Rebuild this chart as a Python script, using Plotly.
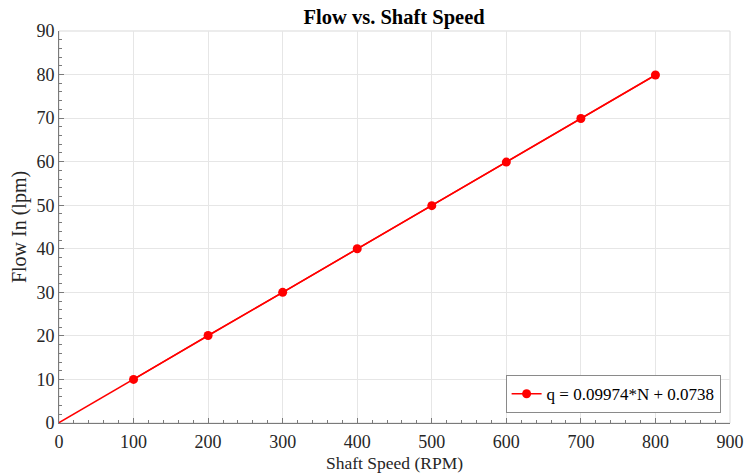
import plotly.graph_objects as go

# Measured shaft speed (RPM) and flow (lpm)
shaft_speed = [100, 200, 300, 400, 500, 600, 700, 800]
flow_in = [10.0, 20.1, 30.0, 40.0, 49.9, 59.9, 69.9, 79.9]

# Linear fit coefficients: q = slope*N + intercept
slope = 0.09974
intercept = 0.0738
fit_label = "q = 0.09974*N + 0.0738"
fit_x = [0, 800]
fit_y = [slope * n + intercept for n in fit_x]

x_ticks = list(range(0, 901, 100))
y_ticks = list(range(0, 91, 10))

FONT = "Liberation Serif, Times New Roman, serif"
TXT = "#262626"
AX = "#7a7a7a"
GRID = "#e6e6e6"

fig = go.Figure()
fig.add_trace(go.Scatter(
    x=fit_x, y=fit_y, mode="lines",
    line=dict(color="#ff0000", width=1.5),
    showlegend=False, hoverinfo="skip",
))
fig.add_trace(go.Scatter(
    x=shaft_speed, y=flow_in, mode="lines+markers", name=fit_label,
    line=dict(color="#ff0000", width=1.5),
    marker=dict(color="#ff0000", size=9),
))

fig.update_layout(
    width=745, height=473,
    margin=dict(l=59, r=15, t=31, b=50, autoexpand=False),
    paper_bgcolor="white", plot_bgcolor="white",
    font=dict(family=FONT, color=TXT, size=16),
    title=dict(text="<b>Flow vs. Shaft Speed</b>", x=0.529, xanchor="center",
               y=0.964, yanchor="middle", font=dict(size=20.5, color="black")),
    showlegend=True,
    legend=dict(x=0.986, y=0.025, xanchor="right", yanchor="bottom",
                bgcolor="white", bordercolor="#8a8a8a", borderwidth=1,
                font=dict(size=17, color="black"), tracegroupgap=0),
    shapes=[dict(type="rect", xref="paper", yref="paper", x0=0, y0=0, x1=1, y1=1,
                 line=dict(color="#d9d9d9", width=1), layer="below")],
)

fig.update_xaxes(
    range=[0, 900], tickvals=x_ticks, ticktext=[str(v) for v in x_ticks],
    automargin=False,
    showgrid=True, gridcolor=GRID, gridwidth=1,
    showline=True, linecolor=AX, linewidth=1, zeroline=False,
    ticks="inside", ticklen=5, tickcolor=AX, ticklabelstandoff=2,
    minor=dict(ticks="inside", dtick=20, ticklen=3, tickcolor=AX, showgrid=False),
    tickfont=dict(size=18, color=TXT),
    title=dict(text="Shaft Speed (RPM)", font=dict(size=17.5, color=TXT), standoff=6),
)
fig.update_yaxes(
    range=[0, 90], tickvals=y_ticks, ticktext=[str(v) for v in y_ticks],
    automargin=False,
    showgrid=True, gridcolor=GRID, gridwidth=1,
    showline=True, linecolor=AX, linewidth=1, zeroline=False,
    ticks="inside", ticklen=5, tickcolor=AX,
    minor=dict(ticks="inside", dtick=2, ticklen=3, tickcolor=AX, showgrid=False),
    tickfont=dict(size=18, color=TXT),
    title=dict(text="Flow In (lpm)", font=dict(size=20, color=TXT), standoff=4),
)

fig.write_html("out.html")
